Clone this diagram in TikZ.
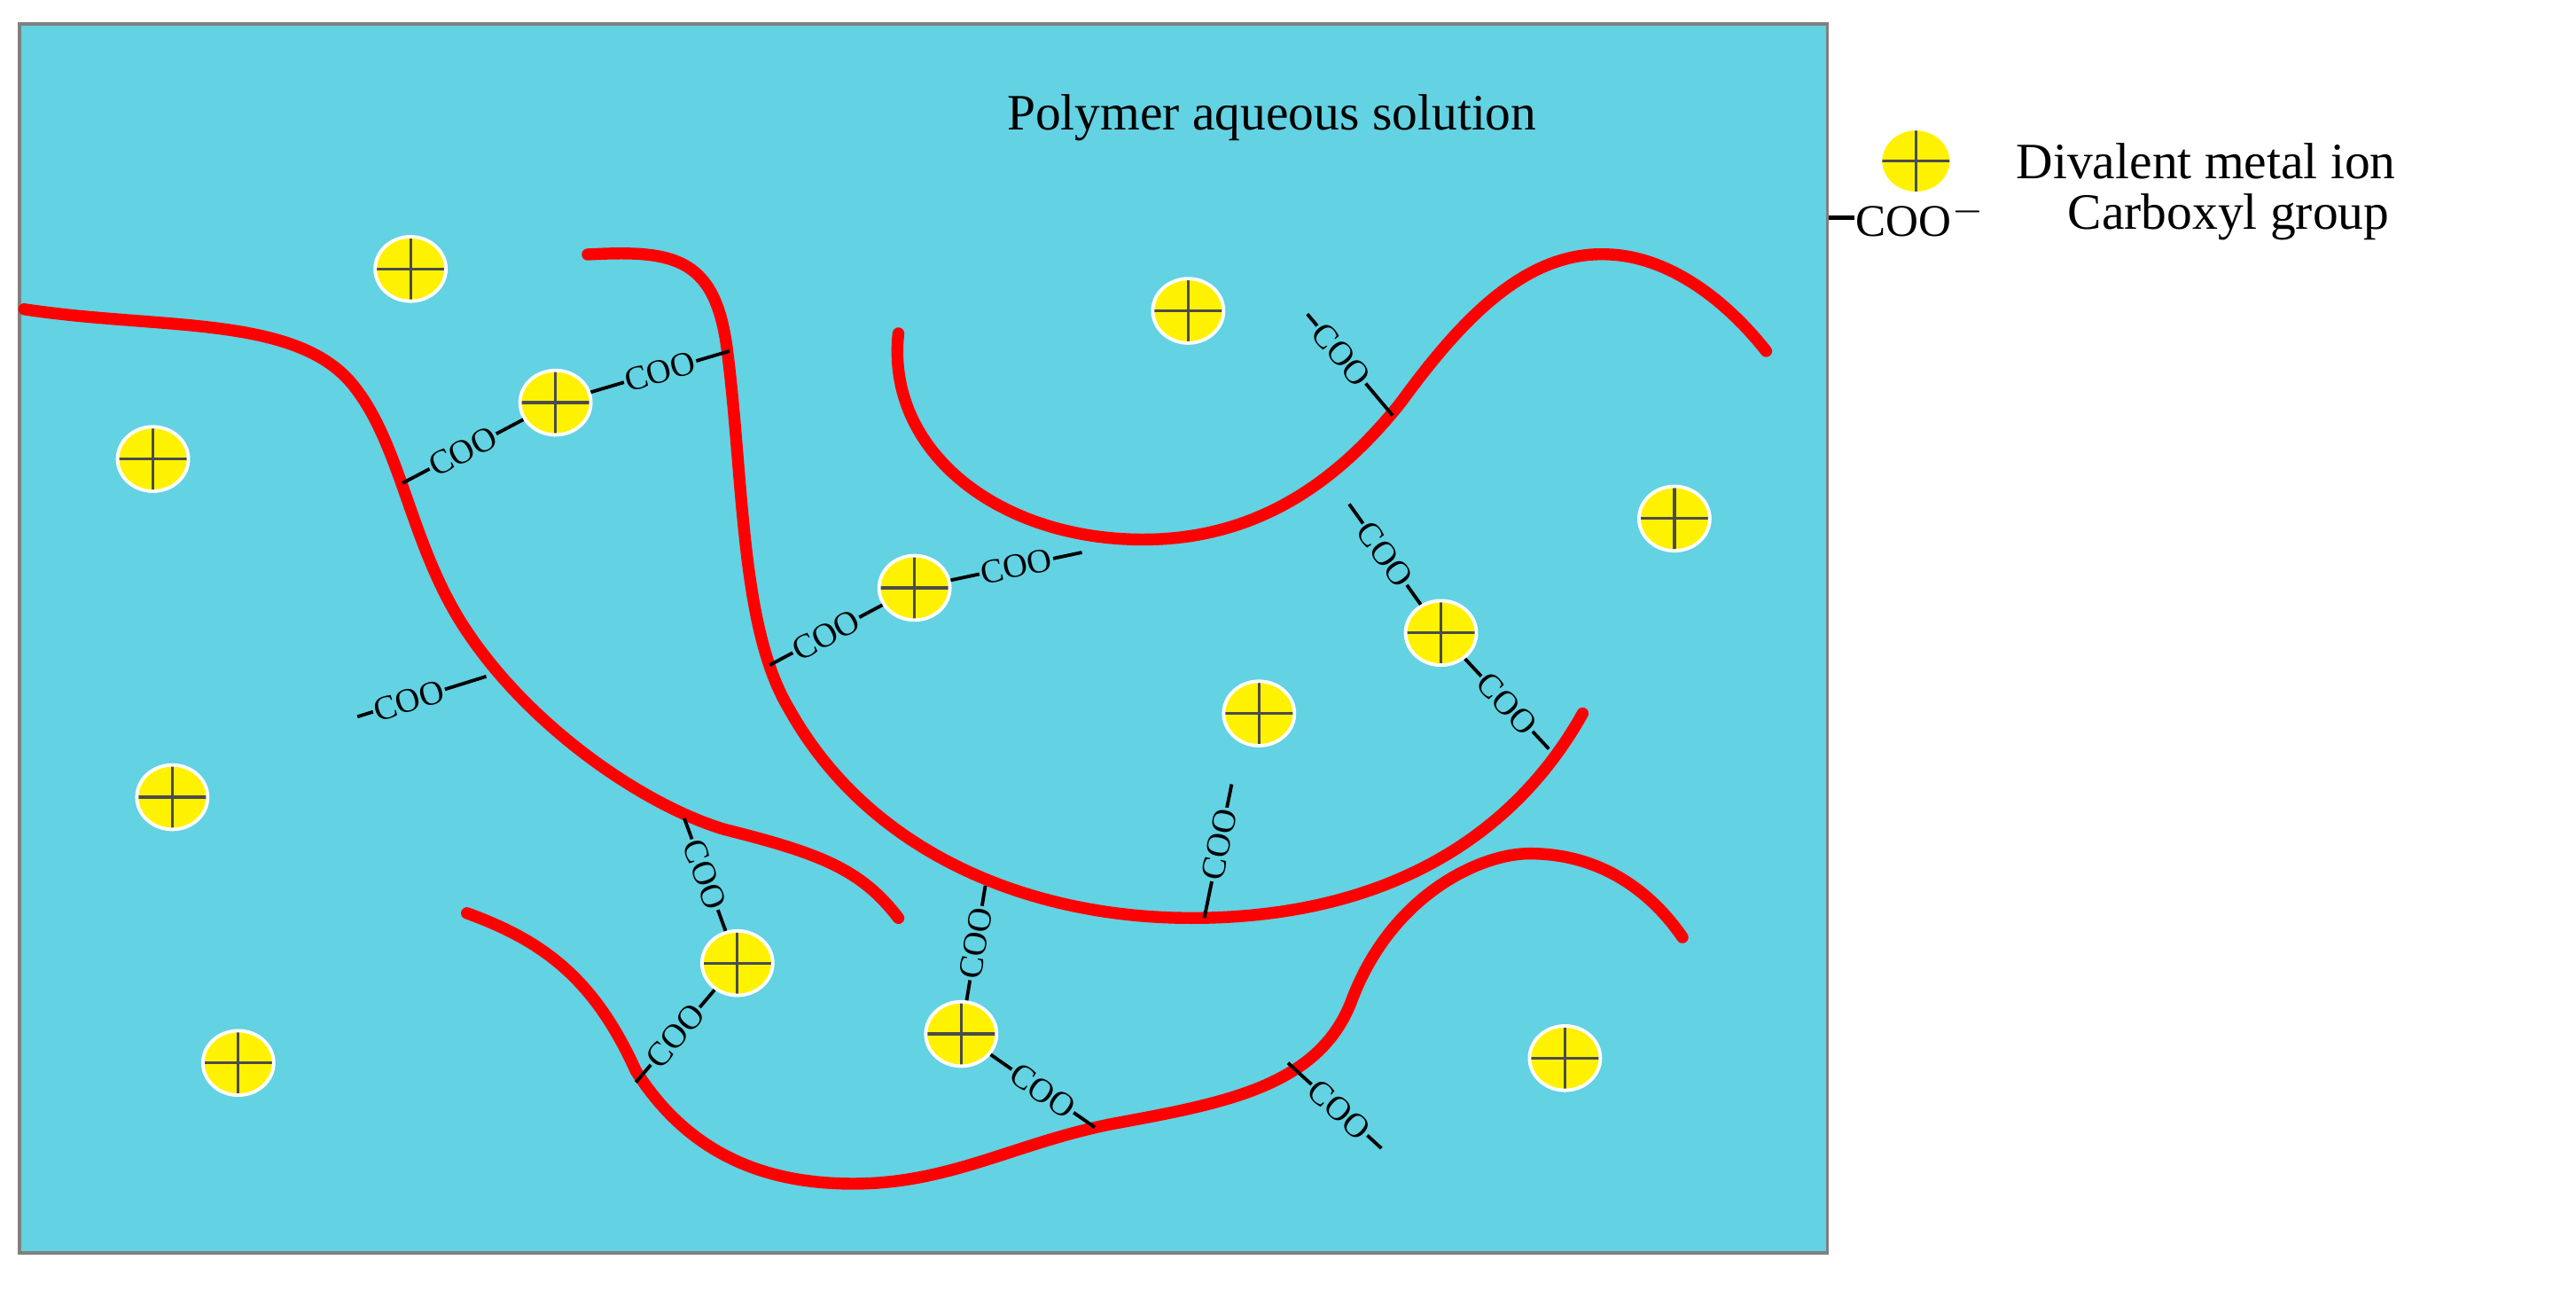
\documentclass[tikz,border=0pt]{standalone}
\usepackage{fontspec}
\setmainfont{Liberation Serif}
\usetikzlibrary{shapes.geometric}
\begin{document}
\begin{tikzpicture}[x=0.01cm,y=-0.01cm,
  chain/.style={draw=red,line width=2.1pt,line cap=round},
  ion/.style={ellipse,minimum width=0.44cm,minimum height=0.40cm,inner sep=0pt,fill=yellow,draw=white,line width=0.6pt,
    path picture={\draw[black!70,line width=0.5pt] (path picture bounding box.north)--(path picture bounding box.south) (path picture bounding box.west)--(path picture bounding box.east);}},
  link/.style={draw=black,line width=0.6pt},
  cootxt/.style={midway,sloped,fill=bg,inner sep=0.3pt,font=\fontsize{6}{7}\selectfont}]
\definecolor{bg}{HTML}{63D2E2}
\useasboundingbox (0,0) rectangle (1600,811);
\fill[white] (0,0) rectangle (1600,811);
\draw[fill=bg,draw=gray,line width=0.6pt] (12,15) rectangle (1135,778);
\node[font=\fontsize{9}{11}\selectfont] (title) at (790,73) {Polymer aqueous solution};
% chains
\draw[chain] (15,192) .. controls (100,205) and (185,195) .. (220,240) .. controls (250,278) and (255,340) .. (290,392) .. controls (330,452) and (400,500) .. (450,515) .. controls (510,530) and (535,540) .. (558,570);
\draw[chain] (365,158) .. controls (420,155) and (445,160) .. (452,220) .. controls (462,300) and (460,390) .. (490,440) .. controls (540,530) and (640,570) .. (740,570) .. controls (860,570) and (940,520) .. (983,443);
\draw[chain] (558,207) .. controls (550,280) and (620,335) .. (710,335) .. controls (780,335) and (830,300) .. (870,250) .. controls (910,195) and (950,155) .. (1000,158) .. controls (1040,160) and (1075,190) .. (1097,218);
\draw[chain] (290,567) .. controls (340,585) and (370,610) .. (395,665) .. controls (430,720) and (480,735) .. (530,735) .. controls (590,735) and (630,710) .. (690,698) .. controls (760,685) and (820,675) .. (840,620) .. controls (865,555) and (920,530) .. (950,530) .. controls (1000,530) and (1030,560) .. (1045,582);
% ions
\foreach \n/\p in {i1/{(255,167)},i2/{(95,285)},i3/{(345,250)},i4/{(738,193)},i5/{(1040,322)},i6/{(568,365)},i7/{(895,393)},i8/{(782,443)},i9/{(107,495)},i10/{(458,598)},i11/{(597,642)},i12/{(148,660)},i13/{(972,657)}}
  \node[ion] (\n) at \p {};
% chain points / free ends
\coordinate (a1) at (250,300); \coordinate (a2) at (453,218);
\coordinate (b1) at (478,413); \coordinate (b2) at (672,343);
\coordinate (c1) at (222,445); \coordinate (c2) at (302,420);
\coordinate (d1) at (425,508); \coordinate (d2) at (395,672);
\coordinate (e1) at (612,550); \coordinate (e2) at (680,700);
\coordinate (f1) at (748,570); \coordinate (f2) at (765,487);
\coordinate (g1) at (812,195); \coordinate (g2) at (865,258);
\coordinate (h1) at (838,313); \coordinate (h2) at (962,465);
\coordinate (k1) at (800,660); \coordinate (k2) at (858,713);
\draw[link] (a1) -- (i3) node[cootxt]{COO};
\draw[link] (i3) -- (a2) node[cootxt]{COO};
\draw[link] (b1) -- (i6) node[cootxt]{COO};
\draw[link] (i6) -- (b2) node[cootxt]{COO};
\draw[link] (c1) -- (c2) node[cootxt,pos=0.4]{COO};
\draw[link] (d1) -- (i10) node[cootxt]{COO};
\draw[link] (i10) -- (d2) node[cootxt]{COO};
\draw[link] (e1) -- (i11) node[cootxt]{COO};
\draw[link] (i11) -- (e2) node[cootxt]{COO};
\draw[link] (f1) -- (f2) node[cootxt,pos=0.55]{COO};
\draw[link] (g1) -- (g2) node[cootxt,pos=0.4]{COO};
\draw[link] (h1) -- (i7) node[cootxt]{COO};
\draw[link] (i7) -- (h2) node[cootxt]{COO};
\draw[link] (k1) -- (k2) node[cootxt,pos=0.55]{COO};
% legend
\node[ion] (li) at (1190,100) {};
\node[anchor=west,font=\fontsize{9}{11}\selectfont] (lt1) at (1240,100) {Divalent metal ion};
\coordinate (lc) at (1136,135);
\node[anchor=west,inner sep=0pt,font=\fontsize{8}{10}\selectfont] (lcoo) at (1152,135) {COO$^{-}$};
\draw[link,line width=0.8pt] (lc) -- (lcoo.west);
\node[anchor=west,font=\fontsize{9}{11}\selectfont] (lt2) at (1272,135) {Carboxyl group};
\end{tikzpicture}
\end{document}
